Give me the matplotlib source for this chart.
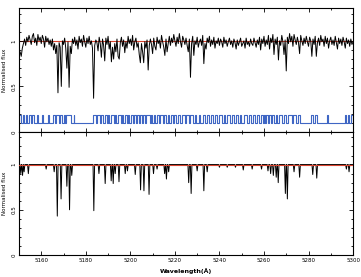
import numpy as np
import matplotlib.pyplot as plt
from matplotlib.ticker import MultipleLocator

# observed spectrum, sampled every 0.5 A from 5150 to 5300
wl_start = 5150.0
wl_step = 0.5
obs_flux = [
    0.84, 0.88, 0.83, 0.92, 0.97, 1.02, 0.95, 1.04, 0.99, 1.06,
    1.01, 0.96, 1.05, 1.08, 0.98, 1.03, 0.95, 1.07, 1.00, 1.04,
    0.97, 1.06, 1.02, 0.93, 1.05, 0.99, 1.03, 0.96, 1.01, 0.94,
    1.02, 0.90, 0.97, 0.86, 0.95, 0.43, 0.98, 0.93, 0.50, 1.00,
    0.96, 1.03, 0.92, 0.70, 0.99, 0.49, 0.94, 0.86, 1.02, 0.97,
    1.04, 0.95, 1.01, 0.91, 1.05, 0.98, 1.02, 0.94, 1.06, 0.99,
    0.93, 1.03, 0.97, 1.05, 0.96, 1.00, 0.92, 0.37, 0.95, 1.01,
    0.98, 0.89, 1.04, 0.97, 0.82, 1.02, 0.95, 0.78, 1.03, 0.96,
    1.05, 0.91, 0.99, 0.77, 0.93, 0.80, 0.97, 0.88, 1.02, 0.83,
    0.80, 0.98, 1.04, 0.94, 1.01, 0.87, 0.99, 0.92, 1.05, 0.97,
    1.02, 0.95, 1.06, 0.90, 0.99, 1.03, 0.93, 0.98, 0.85, 0.76,
    0.97, 0.88, 0.76, 0.99, 0.92, 1.01, 0.68, 0.95, 1.02, 0.96,
    0.86, 1.03, 0.94, 0.90, 1.04, 0.97, 1.01, 0.92, 1.06, 0.99,
    0.93, 0.84, 1.02, 0.88, 0.97, 1.05, 0.95, 1.03, 0.98, 1.07,
    1.00, 0.94, 1.04, 0.97, 1.08, 0.99, 0.93, 1.05, 1.01, 0.96,
    1.03, 0.95, 0.88, 1.02, 0.60, 0.97, 1.05, 0.84, 1.00, 0.96,
    1.04, 0.93, 0.99, 1.02, 0.95, 1.06, 0.75, 0.97, 0.91, 1.03,
    0.98, 1.05, 0.94, 1.01, 0.96, 1.04, 0.92, 1.00, 0.97, 1.03,
    0.95, 1.02, 0.99, 0.93, 1.04, 0.97, 1.01, 0.94, 0.99, 1.03,
    0.96, 1.00, 0.93, 1.02, 0.98, 0.91, 1.01, 0.95, 0.99, 1.03,
    0.94, 0.97, 1.00, 0.92, 1.03, 0.96, 0.99, 0.94, 1.02, 0.97,
    0.95, 1.03, 0.98, 0.93, 1.01, 0.96, 1.04, 0.90, 1.02, 0.97,
    1.05, 0.94, 1.01, 0.96, 1.06, 0.91, 1.03, 0.98, 1.07, 0.85,
    1.02, 0.96, 1.04, 0.79, 1.00, 0.95, 1.06, 0.99, 0.85, 1.01,
    0.67, 1.04, 0.97, 1.08, 0.99, 1.05, 0.94, 1.07, 1.01, 0.96,
    1.04, 0.98, 0.86, 1.06, 1.00, 0.95, 1.03, 0.97, 1.05, 0.99,
    0.94, 1.04, 1.00, 0.83, 1.02, 0.96, 1.05, 0.83, 0.98, 1.03,
    0.95, 1.06, 0.99, 1.02, 0.94, 1.05, 0.97, 1.03, 0.92, 1.00,
    1.04, 0.96, 1.01, 0.95, 1.05, 0.98, 0.91, 1.03, 0.97, 1.02,
    0.95, 1.04, 0.99, 0.92, 1.03, 0.97, 1.01, 0.94, 1.02, 0.96,
    0.99,
]

# line mask windows (where the mask is "on")
mask_start = [5150.0, 5151.6, 5153.0, 5154.5, 5156.0, 5158.2, 5160.5, 5163.0,
              5165.2, 5166.5, 5168.3, 5170.0, 5171.0, 5174.5, 5183.2, 5185.0,
              5187.0, 5188.4, 5190.0, 5191.3, 5193.2, 5194.3, 5196.2, 5197.4,
              5199.0, 5200.2, 5201.8, 5203.0, 5204.5, 5205.8, 5207.0, 5209.3,
              5210.5, 5211.8, 5213.5, 5215.2, 5217.0, 5218.2, 5219.5, 5221.5,
              5223.0, 5225.0, 5226.8, 5229.0, 5230.8, 5232.4, 5234.6, 5236.4,
              5238.2, 5240.0, 5242.0, 5243.6, 5245.8, 5247.4, 5249.2, 5251.0,
              5253.4, 5255.2, 5257.0, 5258.5, 5259.9, 5261.0, 5262.3, 5263.6,
              5265.2, 5266.8, 5269.0, 5270.8, 5273.0, 5275.2, 5281.0, 5282.8,
              5288.2, 5296.2, 5297.6, 5299.0]
mask_end = [5151.0, 5152.4, 5153.8, 5155.2, 5156.6, 5158.7, 5161.0, 5163.5,
            5166.0, 5167.8, 5169.4, 5170.5, 5173.2, 5174.9, 5184.5, 5186.3,
            5187.8, 5189.3, 5190.6, 5192.6, 5193.7, 5195.6, 5196.8, 5198.3,
            5199.6, 5201.2, 5202.4, 5204.0, 5205.2, 5206.5, 5208.8, 5209.8,
            5211.1, 5213.0, 5214.5, 5216.0, 5217.5, 5219.0, 5220.6, 5222.2,
            5224.4, 5226.2, 5228.0, 5229.6, 5231.4, 5233.6, 5235.2, 5237.0,
            5238.8, 5241.2, 5242.6, 5244.6, 5246.4, 5248.2, 5249.8, 5252.6,
            5254.0, 5255.8, 5257.6, 5259.4, 5260.5, 5261.8, 5263.0, 5264.6,
            5266.0, 5268.2, 5270.0, 5272.4, 5274.6, 5276.4, 5282.2, 5284.0,
            5288.7, 5297.0, 5298.4, 5300.0]
mask_low = 0.095
mask_high = 0.19

# model line list: centre (A) and residual flux at the core
line_centre = [5150.8, 5151.6, 5152.3, 5154.2, 5162.2, 5165.8, 5167.2, 5168.9,
               5171.5, 5172.7, 5173.7, 5183.6, 5185.9, 5188.7, 5191.4, 5192.3,
               5193.2, 5194.9, 5197.7, 5198.7, 5202.2, 5204.6, 5206.1, 5208.4,
               5210.4, 5212.0, 5215.4, 5216.2, 5217.2, 5226.2, 5227.3, 5230.0,
               5233.0, 5234.5, 5240.0, 5243.5, 5247.2, 5250.7, 5254.7, 5258.9,
               5261.8, 5263.0, 5264.2, 5265.5, 5266.4, 5269.6, 5270.5, 5273.5,
               5276.0, 5281.9, 5283.7, 5297.0, 5298.2]
line_core = [0.90, 0.88, 0.92, 0.90, 0.95, 0.92, 0.43, 0.62,
             0.76, 0.50, 0.88, 0.49, 0.90, 0.79, 0.82, 0.79,
             0.90, 0.81, 0.90, 0.93, 0.89, 0.72, 0.71, 0.67,
             0.90, 0.95, 0.90, 0.84, 0.92, 0.80, 0.68, 0.93,
             0.71, 0.92, 0.97, 0.97, 0.97, 0.94, 0.95, 0.95,
             0.93, 0.90, 0.88, 0.86, 0.80, 0.68, 0.62, 0.92,
             0.86, 0.89, 0.85, 0.95, 0.92]
continuum = 1.0

# build arrays for drawing
obs_wl = wl_start + wl_step * np.arange(len(obs_flux))

mx, my = [5150.0], [mask_low]
for s, e in zip(mask_start, mask_end):
    mx += [s, s, e, e]
    my += [mask_low, mask_high, mask_high, mask_low]
mx.append(5300.0)
my.append(mask_low)

hw = 0.35
model_wl, model_flux = [5150.0], [continuum]
for c, f in zip(line_centre, line_core):
    model_wl += [c - hw, c, c + hw]
    model_flux += [continuum, f, continuum]
model_wl.append(5300.0)
model_flux.append(continuum)

red = '#d8442f'
blue = '#3f66c4'

fig = plt.figure(figsize=(3.61, 2.77), dpi=100)
ax1 = fig.add_axes([0.0526, 0.5235, 0.9254, 0.4475])
ax2 = fig.add_axes([0.0526, 0.0794, 0.9254, 0.4441], sharex=ax1)

ax1.axhline(continuum, color=red, lw=0.8, zorder=1)
ax1.plot(obs_wl, obs_flux, color='black', lw=0.7, zorder=2)
ax1.plot(mx, my, color=blue, lw=0.8)

ax2.plot(model_wl, model_flux, color='black', lw=0.7, zorder=2)
ax2.axhline(continuum, color=red, lw=0.8, zorder=3)

for ax in (ax1, ax2):
    ax.set_xlim(5150, 5300)
    ax.set_ylim(0, 1.36)
    ax.xaxis.set_major_locator(MultipleLocator(20))
    ax.xaxis.set_minor_locator(MultipleLocator(10))
    ax.yaxis.set_major_locator(MultipleLocator(0.5))
    ax.yaxis.set_minor_locator(MultipleLocator(0.1))
    ax.tick_params(which='both', direction='in', top=True, right=True,
                   width=0.6, labelsize=4, pad=2)
    ax.tick_params(which='major', length=3)
    ax.tick_params(which='minor', length=1.5)
    ax.set_yticks([0, 0.5, 1])
    ax.set_yticklabels(['0', '0.5', '1'], rotation=90, va='center')
    for sp in ax.spines.values():
        sp.set_linewidth(0.8)
    ax.set_ylabel('Normalised flux', fontsize=4, labelpad=3)

ax1.tick_params(labelbottom=False)
ax2.set_xlabel('Wavelength(Å)', fontsize=4.5, fontweight='bold', labelpad=4)

fig.savefig('out.png', dpi=100)
